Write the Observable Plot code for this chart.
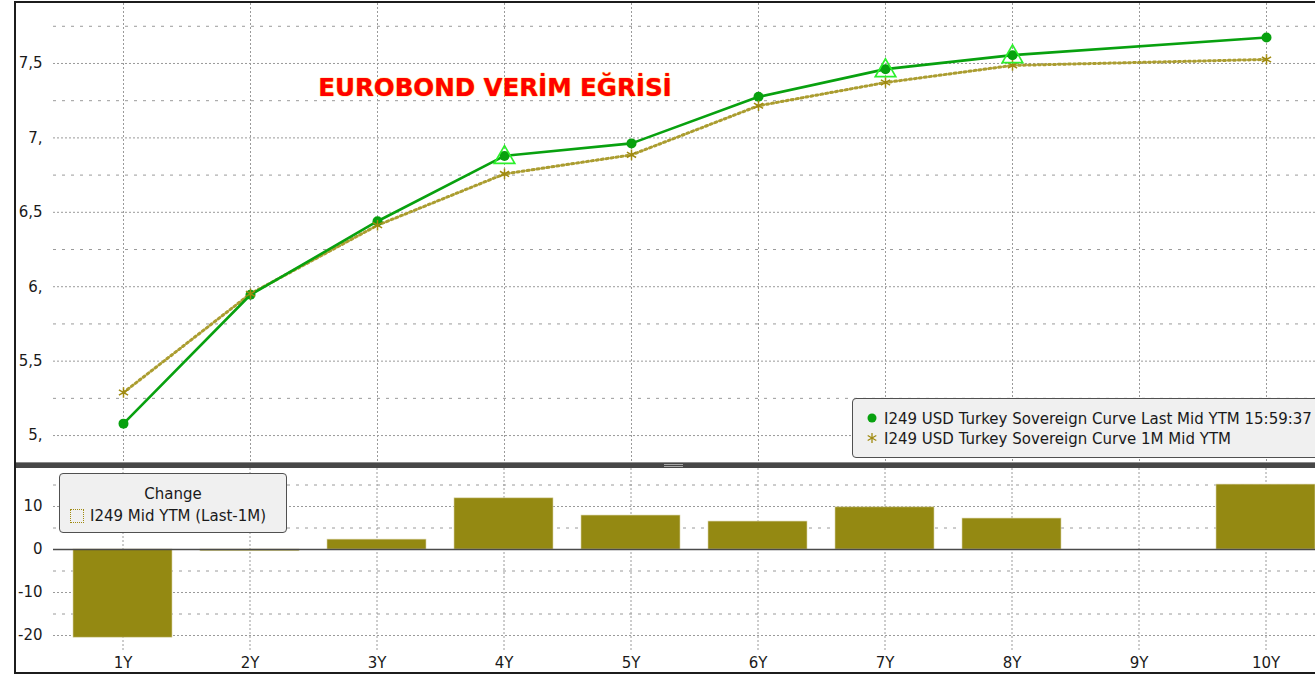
<!DOCTYPE html>
<html>
<head>
<meta charset="utf-8">
<script src="https://cdn.jsdelivr.net/npm/d3@7"></script>
<script src="https://cdn.jsdelivr.net/npm/@observablehq/plot@0.6"></script>
<style>
  html, body { margin: 0; padding: 0; background: #fff; overflow: hidden; width: 1315px; height: 676px; }
  #wrap { position: absolute; left: 14px; top: 1px; width: 1299px; height: 669px;
          border-left: 2px solid #1c1c1c; border-top: 2px solid #1c1c1c; border-bottom: 2px solid #1c1c1c; overflow: hidden; }
  #top { position: absolute; left: 0; top: 0; width: 1299px; height: 459px; }
  #sep { position: absolute; left: 0; top: 459px; width: 1299px; height: 6px; background: #474747;
         border-top: 1px solid #8a8a8a; box-sizing: border-box; }
  #grip { position: absolute; left: 648px; top: 1px; width: 19px; height: 3px;
          border-top: 1px solid #a8a8a8; border-bottom: 1px solid #a8a8a8; box-sizing: border-box; }
  #bot { position: absolute; left: 0; top: 465px; width: 1299px; height: 204px; }
  .txt { font-family: "DejaVu Sans", sans-serif; font-size: 15px; color: #1a1a1a; white-space: nowrap; }
  #title { position: absolute; left: 479px; top: 73px; transform: translateX(-50%);
           font-family: "DejaVu Sans", sans-serif; font-weight: bold; font-size: 24.5px; line-height: 24px;
           color: #ff0000; text-shadow: 0 0 1px #ffb000, 0 0 1px #ffb000; white-space: nowrap; }
  #legTop { position: absolute; left: 836px; top: 395px; width: 520px; height: 58px;
            background: #f0f0f0; border: 1px solid #505050; border-radius: 4px; }
  #legBot { position: absolute; left: 43px; top: 470px; width: 226px; height: 58px;
            background: #f0f0f0; border: 1px solid #505050; border-radius: 4px; }
  .row { position: absolute; line-height: 18px; }
</style>
</head>
<body>
<div id="wrap">
  <div id="top"></div>
  <div id="sep"><div id="grip"></div></div>
  <div id="bot"></div>
  <div id="title">EUROBOND VERİM EĞRİSİ</div>
  <div id="legTop">
    <svg style="position:absolute;left:12px;top:12px" width="14" height="14"><circle cx="7" cy="7" r="4.5" fill="#08a10f"></circle></svg>
    <div class="row txt" style="left:31px;top:11px">I249 USD Turkey Sovereign Curve Last Mid YTM 15:59:37</div>
    <svg style="position:absolute;left:12px;top:32px" width="14" height="14">
      <g stroke="#a08a10" stroke-width="1.3"><line x1="7" y1="2" x2="7" y2="12"></line><line x1="2.7" y1="4.5" x2="11.3" y2="9.5"></line><line x1="2.7" y1="9.5" x2="11.3" y2="4.5"></line></g></svg>
    <div class="row txt" style="left:31px;top:31px">I249 USD Turkey Sovereign Curve 1M Mid YTM</div>
  </div>
  <div id="legBot">
    <div class="row txt" style="left:0;width:226px;text-align:center;top:11px">Change</div>
    <div style="position:absolute;left:10px;top:35px;width:12px;height:12px;border:1.5px dotted #a08a10;"></div>
    <div class="row txt" style="left:30px;top:33px">I249 Mid YTM (Last-1M)</div>
  </div>
</div>
<script>
// ---- data ----
const tenors = ["1Y", "2Y", "3Y", "4Y", "5Y", "6Y", "7Y", "8Y", "9Y", "10Y"];
const lastMidYtm = [5.08, 5.946, 6.44, 6.879, 6.963, 7.276, 7.462, 7.556, null, 7.675];
const oneMonthMidYtm = [5.289, 5.953, 6.413, 6.758, 6.886, 7.216, 7.372, 7.487, null, 7.527];
const changeBp = [-20.5, -0.4, 2.3, 11.9, 7.9, 6.5, 9.8, 7.2, null, 15.1];
const signalTenors = ["4Y", "7Y", "8Y"];
const yMajorTicks = [5, 5.5, 6, 6.5, 7, 7.5];
const yMajorLabels = ["5,", "5,5", "6,", "6,5", "7,", "7,5"];
const yMinorTicks = [5.25, 5.75, 6.25, 6.75, 7.25, 7.75];
const chMajorTicks = [10, 0, -10, -20];
const chMajorLabels = ["10", "0", "-10", "-20"];
const chMinorTicks = [15, 5, -5, -15];

const green = "#08a10f";
const olive = "#a08a10";
const barColor = "#948912";
const gridColor = "#9a9a9a";
const textColor = "#1a1a1a";

const lastRows = tenors.map((t, i) => ({tenor: t, v: lastMidYtm[i]})).filter(d => d.v != null);
const mRows = tenors.map((t, i) => ({tenor: t, v: oneMonthMidYtm[i]})).filter(d => d.v != null);
const sigRows = lastRows.filter(d => signalTenors.includes(d.tenor));
const chRows = tenors.map((t, i) => ({tenor: t, v: changeBp[i]})).filter(d => d.v != null);

const topPlot = Plot.plot({
  width: 1299, height: 459,
  marginLeft: 37, marginRight: 0, marginTop: 0, marginBottom: 0,
  style: {fontFamily: "DejaVu Sans", fontSize: "15px", color: textColor, background: "transparent"},
  x: {type: "point", domain: tenors, range: [104, 1253], padding: 0, axis: null},
  y: {domain: [4.819, 7.903]},
  marks: [
    Plot.ruleY(yMinorTicks, {stroke: gridColor, strokeDasharray: "3,6"}),
    Plot.ruleY(yMajorTicks, {stroke: gridColor, strokeDasharray: "2,2"}),
    Plot.ruleX(tenors, {stroke: gridColor, strokeDasharray: "2,2"}),
    Plot.axisY(yMajorTicks, {tickSize: 0, tickPadding: 11, label: null,
      tickFormat: d => yMajorLabels[yMajorTicks.indexOf(d)], fontSize: 15, fill: textColor}),
    Plot.line(mRows, {x: "tenor", y: "v", stroke: "#ab9d30", strokeWidth: 3, strokeDasharray: "2,3"}),
    Plot.line(lastRows, {x: "tenor", y: "v", stroke: green, strokeWidth: 2.6}),
    Plot.dot(lastRows, {x: "tenor", y: "v", r: 5, fill: green}),
    Plot.dot(mRows, {x: "tenor", y: "v", symbol: "asterisk", r: 5, stroke: olive, strokeWidth: 1.5}),
    Plot.dot(sigRows, {x: "tenor", y: "v", symbol: "triangle", r: 7.6, stroke: "#2cf02c", fill: "none", strokeWidth: 1.7, dy: 1.5})
  ]
});
document.getElementById("top").append(topPlot);

const botPlot = Plot.plot({
  width: 1299, height: 204,
  marginLeft: 37, marginRight: 0, marginTop: 0, marginBottom: 20,
  style: {fontFamily: "DejaVu Sans", fontSize: "15px", color: textColor, background: "transparent"},
  x: {type: "band", domain: tenors, range: [37, 1320], paddingInner: 0.22, paddingOuter: 0.135, align: 0.5},
  y: {domain: [-23.95, 18.84]},
  marks: [
    Plot.ruleY(chMinorTicks, {stroke: gridColor, strokeDasharray: "3,6"}),
    Plot.ruleY(chMajorTicks, {stroke: gridColor, strokeDasharray: "2,2"}),
    Plot.ruleX(tenors, {stroke: gridColor, strokeDasharray: "2,2"}),
    Plot.barY(chRows, {x: "tenor", y: "v", fill: barColor, stroke: "#d9d3a8", strokeWidth: 0.6}),
    Plot.ruleY([0], {stroke: "#4a4a4a", strokeWidth: 1.5}),
    Plot.axisY(chMajorTicks, {tickSize: 0, tickPadding: 11, label: null,
      tickFormat: d => chMajorLabels[chMajorTicks.indexOf(d)], fontSize: 15, fill: textColor}),
    Plot.axisX(tenors, {tickSize: 0, tickPadding: 5, label: null, fontSize: 15, fill: textColor})
  ]
});
document.getElementById("bot").append(botPlot);
</script>
</body>
</html>
